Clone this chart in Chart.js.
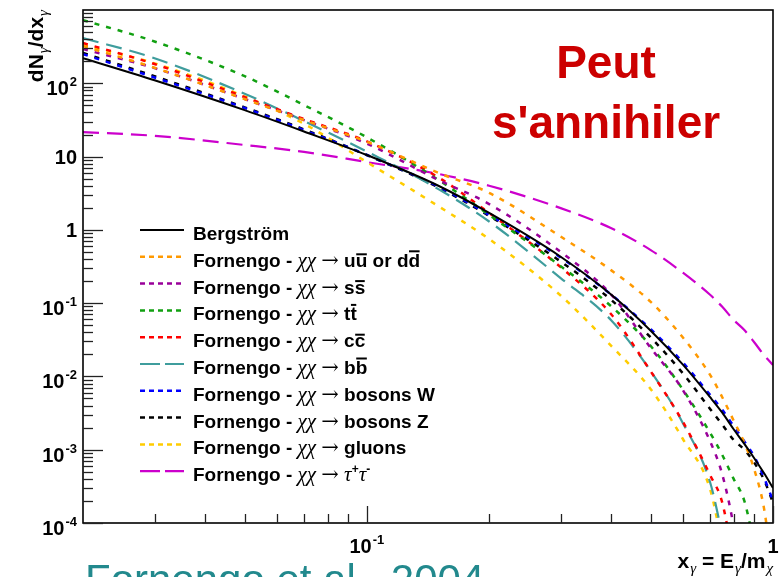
<!DOCTYPE html>
<html>
<head>
<meta charset="utf-8">
<script src="https://cdn.jsdelivr.net/npm/chart.js@4/dist/chart.umd.min.js"></script>
<style>
  html, body { margin: 0; padding: 0; background: #fff; }
  #wrap { width: 782px; height: 577px; position: relative; overflow: hidden; }
</style>
</head>
<body>
<div id="wrap"><canvas id="c" width="782" height="577"></canvas></div>
<script>
// Photon spectrum dN/dx vs x = E/m for several annihilation channels
const xGrid = [0.02, 0.03, 0.05, 0.07, 0.1, 0.15, 0.2, 0.3, 0.4, 0.5, 0.6, 0.7, 0.75, 0.8, 0.85, 0.9, 0.95, 1.0];

const bergstrom = [220, 110, 43, 22, 10.5, 4.0, 1.7, 0.43, 0.13, 0.042, 0.0145, 0.0052, 0.0032, 0.0019, 0.0012, 0.00076, 0.00048, 0.0003];
const uuBar     = [322, 163, 61, 31.5, 15.9, 6.0, 3.2, 0.81, 0.28, 0.104, 0.034, 0.0105, 0.0052, 0.0025, 0.00124, 0.00053, 0.00016, 0.00002];
const ssBar     = [293, 161, 61, 31.5, 15, 4.8, 2.25, 0.50, 0.13, 0.0245, 0.0065, 0.0013, 0.00046, 0.00009, 0.00001, null, null, null];
const ttBar     = [728, 372, 125, 50.5, 18.3, 4.8, 1.6, 0.32, 0.09, 0.026, 0.0066, 0.0017, 0.00085, 0.0004, 0.0002, 0.00005, null, null];
const ccBar     = [354, 183, 64.8, 32.5, 16.1, 5.2, 1.7, 0.31, 0.07, 0.0117, 0.0024, 0.00045, 0.00019, 0.00003, null, null, null, null];
const bbBar     = [414, 220, 72, 30.5, 11.7, 3.6, 1.3, 0.22, 0.058, 0.0118, 0.0023, 0.00036, 0.00007, null, null, null, null, null];
const bosonsW   = [250, 120, 46, 23, 10.5, 3.9, 1.6, 0.42, 0.13, 0.044, 0.0155, 0.0056, 0.0035, 0.0021, 0.0013, 0.0008, 0.00042, 0.0002];
const bosonsZ   = [260, 125, 47, 23.5, 10.5, 3.8, 1.55, 0.37, 0.11, 0.034, 0.011, 0.0036, 0.0022, 0.00136, 0.001, 0.00066, 0.00039, 0.00019];
const gluons    = [332, 187, 66, 28, 8.4, 2.1, 0.75, 0.127, 0.026, 0.0067, 0.0014, 0.00029, 0.00005, null, null, null, null, null];
const tauTau    = [21.6, 19.2, 14.4, 11.6, 8.4, 5.8, 4.0, 1.98, 1.05, 0.53, 0.26, 0.13, 0.089, 0.059, 0.043, 0.029, 0.0196, 0.0143];

const seriesLabels = [
  'Bergström',
  'Fornengo - χχ → uu\u0305 or dd\u0305',
  'Fornengo - χχ → ss\u0305',
  'Fornengo - χχ → tt\u0305',
  'Fornengo - χχ → cc\u0305',
  'Fornengo - χχ → bb\u0305',
  'Fornengo - χχ → bosons W',
  'Fornengo - χχ → bosons Z',
  'Fornengo - χχ → gluons',
  'Fornengo - χχ → τ⁺τ⁻'
];
const seriesValues = [bergstrom, uuBar, ssBar, ttBar, ccBar, bbBar, bosonsW, bosonsZ, gluons, tauTau];

const yTickLabels = ['10^-4', '10^-3', '10^-2', '10^-1', '1', '10', '10^2'];
const xTickLabels = ['10^-1', '1'];

// Styles per series: colour, dash for curves, dash for legend sample, width
const DOT = [5, 7], DOT_LEG = [5, 4];
const LONG = [16, 8], LONG_LEG = [20, 5];
const styles = [
  { color: '#000000', dash: [],   leg: [],       w: 2 },
  { color: '#ff9900', dash: DOT,  leg: DOT_LEG,  w: 2.5 },
  { color: '#990099', dash: DOT,  leg: DOT_LEG,  w: 2.5 },
  { color: '#11a011', dash: DOT,  leg: DOT_LEG,  w: 2.5 },
  { color: '#ff0000', dash: DOT,  leg: DOT_LEG,  w: 2.5 },
  { color: '#3f9d9d', dash: LONG, leg: LONG_LEG, w: 2.2 },
  { color: '#0000ff', dash: DOT,  leg: DOT_LEG,  w: 2.5 },
  { color: '#000000', dash: DOT,  leg: DOT_LEG,  w: 2.5 },
  { color: '#ffcc00', dash: DOT,  leg: DOT_LEG,  w: 2.5 },
  { color: '#cc00cc', dash: LONG, leg: LONG_LEG, w: 2.2 }
];

const SANS = '"Liberation Sans", Arial, sans-serif';
const SERIF = '"Liberation Serif", "DejaVu Serif", serif';

const datasets = seriesValues.map((vals, i) => ({
  label: seriesLabels[i],
  data: xGrid.map((x, k) => ({ x, y: vals[k] })).filter(p => p.y !== null),
  borderColor: styles[i].color,
  borderWidth: styles[i].w,
  borderDash: styles[i].dash,
  pointRadius: 0,
  fill: false,
  cubicInterpolationMode: 'monotone',
  clip: 0
}));

// --- text helpers -------------------------------------------------------
function drawPow(ctx, label, x, baseline, align, bodyPx, supPx) {
  const [base, exp] = label.split('^');
  ctx.font = `bold ${bodyPx}px ${SANS}`;
  const wb = ctx.measureText(base).width;
  let we = 0;
  if (exp) { ctx.font = `bold ${supPx}px ${SANS}`; we = ctx.measureText(exp).width + 1; }
  const total = wb + we;
  let x0 = align === 'right' ? x - total : align === 'center' ? x - total / 2 : x;
  ctx.textAlign = 'left';
  ctx.font = `bold ${bodyPx}px ${SANS}`;
  ctx.fillText(base, x0, baseline);
  if (exp) {
    ctx.font = `bold ${supPx}px ${SANS}`;
    ctx.fillText(exp, x0 + wb + 1, baseline - bodyPx * 0.45);
  }
}

function runsOf(str) {
  const runs = [];
  for (const c of Array.from(str)) {
    if (c === '\u0305') { if (runs.length) runs[runs.length - 1].over = true; continue; }
    let kind = 'txt';
    if (/[χτγ]/.test(c)) kind = 'greek';
    else if (c === '→') kind = 'arrow';
    else if (c === '⁺' || c === '⁻') kind = 'sup';
    runs.push({ c, kind, over: false });
  }
  return runs;
}

function drawLegendText(ctx, str, x, baseline) {
  const fonts = {
    txt: `bold 19px ${SANS}`,
    greek: `italic 21px ${SERIF}`,
    arrow: `21px "DejaVu Serif", serif`,
    sup: `bold 12px ${SANS}`
  };
  let cx = x;
  ctx.textAlign = 'left';
  for (const r of runsOf(str)) {
    ctx.font = fonts[r.kind];
    let ch = r.c, dy = 0;
    if (r.kind === 'sup') { ch = r.c === '⁺' ? '+' : '-'; dy = -8; }
    const m = ctx.measureText(ch);
    ctx.fillText(ch, cx, baseline + dy);
    if (r.over) {
      const top = baseline - m.actualBoundingBoxAscent - 2.5;
      ctx.save();
      ctx.lineWidth = 2;
      ctx.beginPath();
      ctx.moveTo(cx + 0.5, top);
      ctx.lineTo(cx + m.width - 0.5, top);
      ctx.stroke();
      ctx.restore();
    }
    cx += m.width;
  }
}

function drawSubTitle(ctx, parts, x, baseline, align) {
  // parts: [text, isSubscriptGreek]
  const body = `bold 21px ${SANS}`, sub = `italic 15px ${SERIF}`;
  let total = 0;
  for (const [t, s] of parts) { ctx.font = s ? sub : body; total += ctx.measureText(t).width + (s ? 1 : 0); }
  let cx = align === 'right' ? x - total : x;
  ctx.textAlign = 'left';
  for (const [t, s] of parts) {
    ctx.font = s ? sub : body;
    ctx.fillText(t, cx + (s ? 1 : 0), baseline + (s ? 5 : 0));
    cx += ctx.measureText(t).width + (s ? 1 : 0);
  }
}

// --- frame, ticks, labels, legend, annotations --------------------------
const decor = {
  id: 'decor',
  afterDraw(chart) {
    const { ctx, chartArea: a, scales: { x, y } } = chart;
    ctx.save();
    ctx.fillStyle = '#000';
    ctx.strokeStyle = '#000';

    // frame
    ctx.lineWidth = 1.6;
    ctx.setLineDash([]);
    ctx.strokeRect(a.left, a.top, a.right - a.left, a.bottom - a.top);

    // y ticks (inside, left axis)
    ctx.lineWidth = 1.3;
    ctx.strokeStyle = '#222';
    for (let e = -4; e <= 2; e++) {
      for (let m = 1; m <= 9; m++) {
        const v = m * Math.pow(10, e);
        if (v < y.min || v > y.max) continue;
        const py = Math.round(y.getPixelForValue(v)) + 0.5;
        const len = m === 1 ? 20 : 10;
        ctx.beginPath(); ctx.moveTo(a.left, py); ctx.lineTo(a.left + len, py); ctx.stroke();
      }
    }
    // x ticks (inside, bottom axis)
    for (let e = -2; e <= 0; e++) {
      for (let m = 1; m <= 9; m++) {
        const v = m * Math.pow(10, e);
        if (v <= x.min + 1e-9 || v > x.max + 1e-9) continue;
        const px = Math.round(x.getPixelForValue(v)) + 0.5;
        const len = m === 1 ? 17 : 9;
        ctx.beginPath(); ctx.moveTo(px, a.bottom); ctx.lineTo(px, a.bottom - len); ctx.stroke();
      }
    }

    // y tick labels
    ctx.fillStyle = '#000';
    yTickLabels.forEach(lab => {
      const [b, e] = lab.split('^');
      const v = e ? Math.pow(10, +e) : +b;
      const py = y.getPixelForValue(v);
      drawPow(ctx, lab, 77, py + (e ? 12 : 7.5), 'right', 20, 13);
    });
    // x tick labels
    xTickLabels.forEach(lab => {
      const [b, e] = lab.split('^');
      const v = e ? Math.pow(10, +e) : +b;
      const px = x.getPixelForValue(v);
      drawPow(ctx, lab, px, 553, 'center', 20, 13);
    });

    // axis titles
    drawSubTitle(ctx, [['x', false], ['γ', true], [' = E', false], ['γ', true], ['/m', false], ['χ', true]], 773, 568, 'right');
    ctx.save();
    ctx.translate(43, 10);
    ctx.rotate(-Math.PI / 2);
    drawSubTitle(ctx, [['dN', false], ['γ', true], ['/dx', false], ['γ', true]], 0, 0, 'right');
    ctx.restore();

    // legend
    const top = 230, step = 26.8;
    chart.data.datasets.forEach((ds, i) => {
      const yy = top + i * step;
      ctx.save();
      ctx.strokeStyle = styles[i].color;
      ctx.lineWidth = styles[i].w;
      ctx.setLineDash(styles[i].leg);
      ctx.beginPath(); ctx.moveTo(140, yy); ctx.lineTo(184, yy); ctx.stroke();
      ctx.restore();
      ctx.fillStyle = '#000';
      ctx.strokeStyle = '#000';
      drawLegendText(ctx, ds.label, 193, yy + 10);
    });

    // red note in the upper right
    ctx.fillStyle = '#cc0000';
    ctx.textAlign = 'center';
    ctx.font = `bold 46px ${SANS}`;
    ctx.fillText('Peut', 606, 78);
    ctx.fillText("s'annihiler", 606, 138);

    // reference line at the bottom
    ctx.fillStyle = '#22898d';
    ctx.textAlign = 'left';
    ctx.font = `42px ${SANS}`;
    ctx.fillText('Fornengo et al., 2004', 85, 594);

    ctx.restore();
  }
};

new Chart(document.getElementById('c'), {
  type: 'line',
  data: { datasets },
  options: {
    responsive: false,
    animation: false,
    events: [],
    layout: { padding: { left: 83, top: 10, right: 9, bottom: 54 } },
    scales: {
      x: { type: 'logarithmic', min: 0.02, max: 1, display: false },
      y: { type: 'logarithmic', min: 1e-4, max: 1e3, display: false }
    },
    plugins: { legend: { display: false }, tooltip: { enabled: false } }
  },
  plugins: [decor]
});
</script>
</body>
</html>
